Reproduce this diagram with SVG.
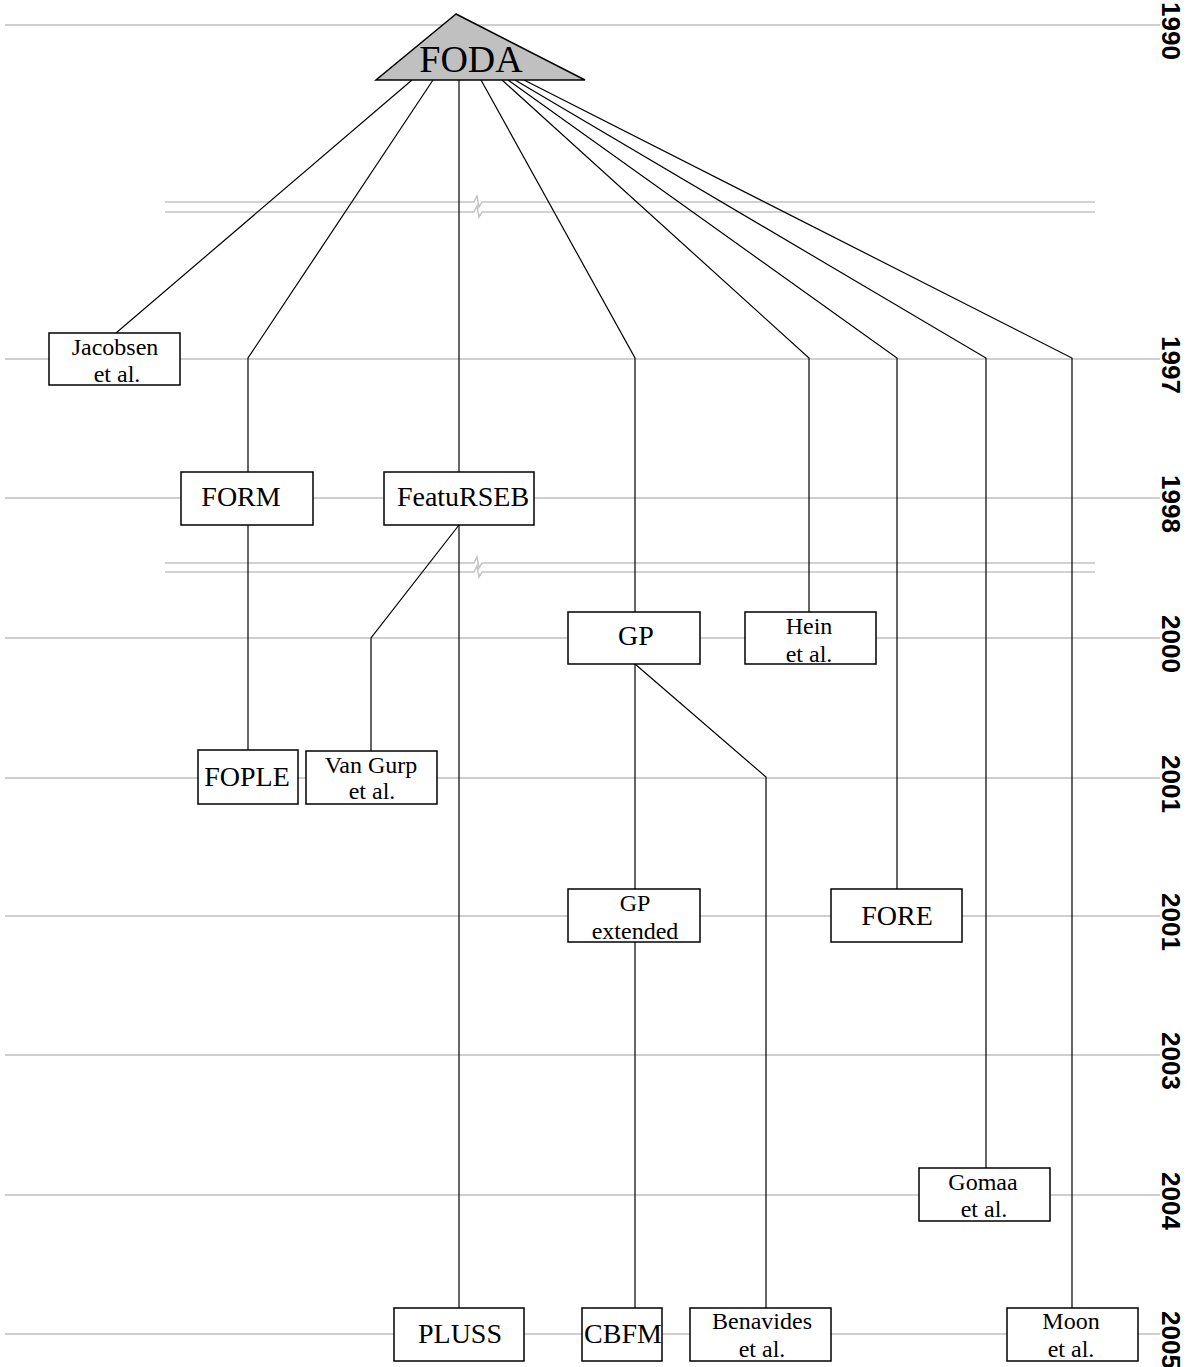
<svg xmlns="http://www.w3.org/2000/svg" width="1188" height="1367" viewBox="0 0 1188 1367">
<style>
.grid{stroke:#c0c0c0;stroke-width:1.5;fill:none}
.brk{stroke:#c4c4c4;stroke-width:1.5;fill:none}
.edge{stroke:#000;stroke-width:1.2;fill:none}
.box{fill:#fff;stroke:#000;stroke-width:1.5}
.t{font-family:"Liberation Serif","Times New Roman",serif;fill:#000;text-anchor:middle}
.t1{font-size:28px}
.t2{font-size:24px}
.yr{font-family:"Liberation Sans",Arial,sans-serif;font-weight:bold;font-size:26px;fill:#000}
</style>
<rect width="1188" height="1367" fill="#fff"/>
<g id="timeline">
<path class="grid" d="M5,25H1160M5,359H1160M5,498H1160M5,638H1160M5,778H1160M5,916H1160M5,1055H1160M5,1195H1160M5,1334H1160"/>
<text class="yr" transform="translate(1162,2) rotate(90)">1990</text>
<text class="yr" transform="translate(1162,336) rotate(90)">1997</text>
<text class="yr" transform="translate(1162,475) rotate(90)">1998</text>
<text class="yr" transform="translate(1162,615) rotate(90)">2000</text>
<text class="yr" transform="translate(1162,755) rotate(90)">2001</text>
<text class="yr" transform="translate(1162,893) rotate(90)">2001</text>
<text class="yr" transform="translate(1162,1032) rotate(90)">2003</text>
<text class="yr" transform="translate(1162,1172) rotate(90)">2004</text>
<text class="yr" transform="translate(1162,1311) rotate(90)">2005</text>
</g>
<g id="breaks">
<path class="brk" d="M165,202H474L477,196L479,207L482,202H1095M165,212H474L477,206L479,217L482,212H1095"/>
<path class="brk" d="M165,563H474L477,557L479,568L482,563H1095M165,572H474L477,566L479,577L482,572H1095"/>
</g>
<g id="connectors">
<path class="edge" d="M412,80L116,333"/>
<path class="edge" d="M433,80L248,358V472"/>
<path class="edge" d="M459,80V472"/>
<path class="edge" d="M481,80L635,358V612"/>
<path class="edge" d="M502,80L809,358V612"/>
<path class="edge" d="M508,80L897,358V889"/>
<path class="edge" d="M515,80L986,358V1168"/>
<path class="edge" d="M524,80L1072,358V1308"/>
<path class="edge" d="M248,525V750"/>
<path class="edge" d="M459,525V1308"/>
<path class="edge" d="M459,525L371,638V751"/>
<path class="edge" d="M635,664V889"/>
<path class="edge" d="M635,664L766,777V1308"/>
<path class="edge" d="M635,942V1308"/>
</g>
<g id="foda">
<polygon points="456,14 376,80 585,80" fill="#c0c0c0" stroke="#000" stroke-width="1.5"/>
<text class="t" x="471" y="72" font-size="38">FODA</text>
</g>
<g id="jacobsen"><rect class="box" x="49" y="333" width="131" height="52"/><text class="t t2" x="115" y="355">Jacobsen</text><text class="t t2" x="117" y="382">et al.</text></g>
<g id="form"><rect class="box" x="181" y="472" width="132" height="53"/><text class="t t1" x="241" y="506">FORM</text></g>
<g id="featursebb"><rect class="box" x="384" y="472" width="150" height="53"/><text class="t t1" x="463" y="506">FeatuRSEB</text></g>
<g id="gp"><rect class="box" x="568" y="612" width="132" height="52"/><text class="t t1" x="636" y="645">GP</text></g>
<g id="hein"><rect class="box" x="745" y="612" width="131" height="52"/><text class="t t2" x="809" y="634">Hein</text><text class="t t2" x="809" y="662">et al.</text></g>
<g id="fople"><rect class="box" x="198" y="750" width="100" height="54"/><text class="t t1" x="247" y="786">FOPLE</text></g>
<g id="vangurp"><rect class="box" x="306" y="751" width="131" height="53"/><text class="t t2" x="371" y="773">Van Gurp</text><text class="t t2" x="372" y="799">et al.</text></g>
<g id="gpextended"><rect class="box" x="568" y="889" width="132" height="53"/><text class="t t2" x="635" y="911">GP</text><text class="t t2" x="635" y="939">extended</text></g>
<g id="fore"><rect class="box" x="831" y="889" width="131" height="53"/><text class="t t1" x="897" y="925">FORE</text></g>
<g id="gomaa"><rect class="box" x="919" y="1168" width="131" height="53"/><text class="t t2" x="983" y="1190">Gomaa</text><text class="t t2" x="984" y="1217">et al.</text></g>
<g id="pluss"><rect class="box" x="394" y="1308" width="130" height="53"/><text class="t t1" x="460" y="1343">PLUSS</text></g>
<g id="cbfm"><rect class="box" x="582" y="1308" width="80" height="53"/><text class="t t1" x="623" y="1343">CBFM</text></g>
<g id="benavides"><rect class="box" x="690" y="1308" width="141" height="53"/><text class="t t2" x="762" y="1329">Benavides</text><text class="t t2" x="762" y="1357">et al.</text></g>
<g id="moon"><rect class="box" x="1007" y="1308" width="131" height="53"/><text class="t t2" x="1071" y="1329">Moon</text><text class="t t2" x="1071" y="1357">et al.</text></g>
</svg>
